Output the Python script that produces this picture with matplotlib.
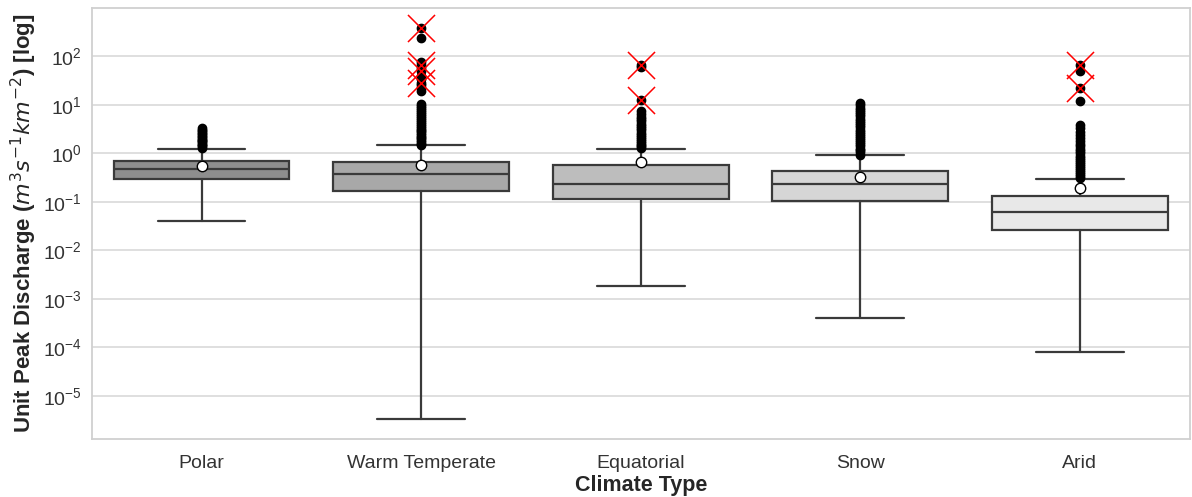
import numpy as np
import matplotlib.pyplot as plt
import seaborn as sns

sns.set_style("whitegrid")
plt.rcParams['font.family'] = ['Liberation Sans', 'DejaVu Sans']

climates = ['Polar', 'Warm Temperate', 'Equatorial', 'Snow', 'Arid']
box_colors = ['#8e8e8e', '#a8a8a8', '#bdbdbd', '#d6d6d6', '#e8e8e8']

# box statistics per climate type (m3 s-1 km-2)
q1 = [0.30, 0.171, 0.117, 0.106, 0.026]
med = [0.47, 0.37, 0.235, 0.23, 0.063]
q3 = [0.71, 0.68, 0.57, 0.43, 0.135]
whislo = [0.041, 3.35e-6, 1.86e-3, 4.1e-4, 8.1e-5]
whishi = [1.26, 1.46, 1.24, 0.92, 0.30]
means = [0.56, 0.59, 0.67, 0.32, 0.19]

# outliers above the upper whisker
fliers_polar = [1.3, 1.4, 1.5, 1.6, 1.7, 1.8, 1.9, 2.0, 2.15, 2.3, 2.5,
                2.7, 2.9, 3.1, 3.4]
fliers_warm = [1.5, 1.6, 1.75, 1.9, 2.05, 2.2, 2.4, 2.6, 2.85, 3.1, 3.4,
               3.7, 4.0, 4.4, 4.8, 5.3, 5.8, 6.4, 7.0, 7.7, 8.5, 9.4, 10.4,
               19, 22, 26, 29, 34, 40, 50, 58, 68, 76, 235, 392]
fliers_equat = [1.3, 1.4, 1.5, 1.65, 1.8, 2.0, 2.2, 2.45, 2.7, 3.0, 3.3,
                3.7, 4.1, 4.6, 5.1, 5.7, 6.4, 7.4, 12.5, 60, 66]
fliers_snow = [0.95, 1.05, 1.15, 1.25, 1.4, 1.55, 1.7, 1.9, 2.1, 2.3, 2.55,
               2.8, 3.1, 3.45, 3.8, 4.2, 4.7, 5.2, 5.8, 6.4, 7.1, 7.9, 8.8,
               9.8, 10.8]
fliers_arid = [0.31, 0.34, 0.37, 0.41, 0.45, 0.5, 0.55, 0.6, 0.67, 0.74,
               0.82, 0.9, 1.0, 1.1, 1.25, 1.4, 1.6, 1.8, 2.1, 2.4, 2.8,
               3.3, 3.9, 12, 22.6, 50, 68]
fliers = [fliers_polar, fliers_warm, fliers_equat, fliers_snow, fliers_arid]

# flagged values marked with red crosses
flag_pos = [1, 1, 1, 1, 2, 2, 4, 4]
flag_vals = [392, 68, 50, 29, 66, 12.5, 68, 22.6]

stats = []
for i, name in enumerate(climates):
    stats.append(dict(label=name, q1=q1[i], med=med[i], q3=q3[i],
                      whislo=whislo[i], whishi=whishi[i], mean=means[i],
                      fliers=fliers[i]))

fig = plt.figure(figsize=(11.92, 4.97), dpi=100)
ax = fig.add_subplot(111)

lc = '#3a3a3a'
bp = ax.bxp(stats, positions=range(len(climates)), widths=0.8,
            capwidths=0.4, patch_artist=True, showmeans=True,
            boxprops=dict(edgecolor=lc, linewidth=1.6),
            medianprops=dict(color=lc, linewidth=1.6),
            whiskerprops=dict(color=lc, linewidth=1.6),
            capprops=dict(color=lc, linewidth=1.6),
            flierprops=dict(marker='o', markerfacecolor='black',
                            markeredgecolor='black', markersize=6),
            meanprops=dict(marker='o', markerfacecolor='white',
                           markeredgecolor='black', markersize=7.5))
for patch, c in zip(bp['boxes'], box_colors):
    patch.set_facecolor(c)

ax.scatter(flag_pos, flag_vals, marker='x', s=380, c='red',
           linewidths=1.1, zorder=5)

ax.set_yscale('log')
ax.set_ylim(1.3e-6, 1.0e3)
ax.set_xlim(-0.5, 4.5)
ax.yaxis.set_major_locator(plt.FixedLocator([1e-5, 1e-4, 1e-3, 1e-2, 1e-1, 1, 10, 100]))
ax.yaxis.set_minor_locator(plt.NullLocator())
ax.tick_params(axis='both', labelsize=14, colors='#333333')
ax.tick_params(axis='x', pad=8)
ax.grid(True, axis='y', color='#d9d9d9', linewidth=1.2)
ax.grid(False, axis='x')
for s in ax.spines.values():
    s.set_color('#d0d0d0')
    s.set_linewidth(1.3)

ax.set_xlabel('Climate Type', fontsize=15.5, fontweight='bold', labelpad=2)
ax.set_ylabel(r'Unit Peak Discharge ($m^3s^{-1}km^{-2}$) [log]',
              fontsize=16, fontweight='bold', labelpad=3)

plt.subplots_adjust(left=0.077, right=0.998, top=0.984, bottom=0.117)
plt.savefig('out.png', dpi=100)
